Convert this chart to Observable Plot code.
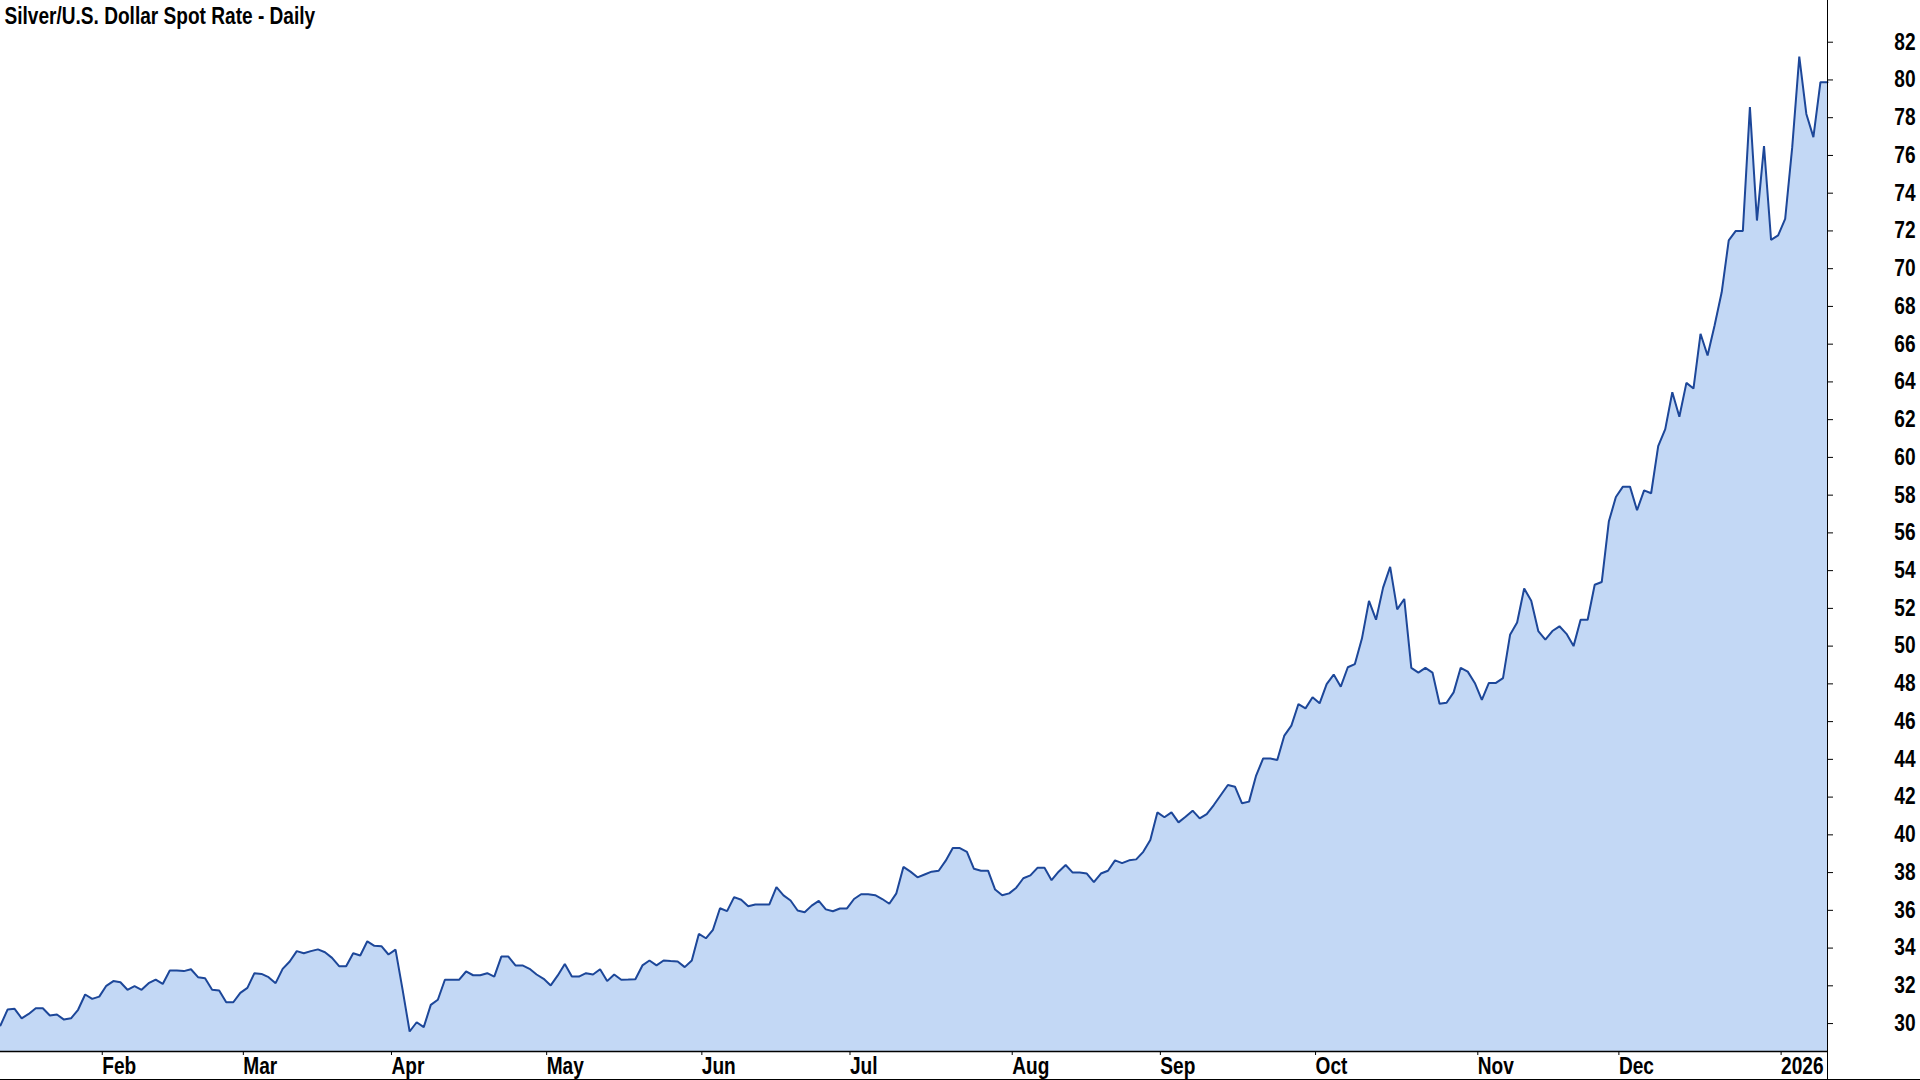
<!DOCTYPE html>
<html><head><meta charset="utf-8">
<script src="https://cdn.jsdelivr.net/npm/d3@7"></script>
<script src="https://cdn.jsdelivr.net/npm/@observablehq/plot@0.6"></script>
<style>
html,body{margin:0;padding:0;background:#fff;}
#wrap{position:relative;width:1920px;height:1080px;overflow:hidden;}
#wrap svg{display:block;}
.vline{position:absolute;left:1827px;top:1051px;width:1px;height:29px;background:#000;}
.hline{position:absolute;left:0;top:1079px;width:1920px;height:1px;background:#000;}
</style></head><body><div id="wrap"></div>
<script>
// Daily closes, one value per weekday, starting Tue 14 Jan 2025
const jan25 = [29.9, 30.74, 30.78, 30.28, 30.51, 30.81, 30.81, 30.43, 30.48, 30.21, 30.28, 30.73, 31.54, 31.31];
const feb25 = [31.43, 32.0, 32.25, 32.19, 31.79, 31.98, 31.79, 32.14, 32.33, 32.1, 32.81, 32.81, 32.78, 32.88, 32.46, 32.4, 31.79, 31.75, 31.13, 31.13];
const mar25 = [31.63, 31.89, 32.67, 32.63, 32.46, 32.14, 32.9, 33.29, 33.84, 33.73, 33.84, 33.93, 33.78, 33.48, 33.04, 33.04, 33.73, 33.61, 34.36, 34.12, 34.1];
const apr25 = [33.66, 33.92, 31.8, 29.58, 30.07, 29.81, 30.99, 31.26, 32.32, 32.32, 32.32, 32.76, 32.56, 32.56, 32.67, 32.49, 33.55, 33.55, 33.08, 33.08, 32.9, 32.6];
const may25 = [32.37, 32.02, 32.55, 33.16, 32.49, 32.49, 32.67, 32.6, 32.88, 32.25, 32.6, 32.32, 32.33, 32.35, 33.08, 33.34, 33.08, 33.34, 33.31, 33.29, 32.99, 33.34];
const jun25 = [34.75, 34.52, 34.97, 36.11, 35.96, 36.7, 36.56, 36.22, 36.31, 36.31, 36.31, 37.23, 36.79, 36.52, 35.99, 35.9, 36.25, 36.5, 36.05, 35.95, 36.1];
const jul25 = [36.1, 36.6, 36.85, 36.85, 36.8, 36.6, 36.35, 36.9, 38.3, 38.05, 37.75, 37.9, 38.05, 38.1, 38.63, 39.3, 39.3, 39.1, 38.2, 38.1, 38.1, 37.1, 36.8];
const aug25 = [36.9, 37.2, 37.7, 37.85, 38.25, 38.25, 37.6, 38.05, 38.4, 38.0, 38.0, 37.95, 37.5, 37.95, 38.1, 38.65, 38.5, 38.65, 38.7, 39.1, 39.73];
const sep25 = [41.19, 40.93, 41.19, 40.66, 40.96, 41.28, 40.87, 41.1, 41.58, 42.11, 42.64, 42.55, 41.67, 41.76, 43.14, 44.05, 44.05, 43.97, 45.26, 45.79, 46.93, 46.7];
const oct25 = [47.29, 46.97, 47.99, 48.49, 47.85, 48.88, 49.05, 50.4, 52.4, 51.4, 53.1, 54.2, 51.95, 52.5, 48.85, 48.6, 48.85, 48.6, 46.95, 47.0, 47.55, 48.85, 48.65];
const nov25 = [48.05, 47.15, 48.05, 48.05, 48.3, 50.6, 51.25, 53.05, 52.4, 50.8, 50.35, 50.8, 51.05, 50.65, 50.0, 51.4, 51.4, 53.25, 53.4, 56.6];
const dec25 = [57.9, 58.45, 58.45, 57.2, 58.25, 58.1, 60.6, 61.5, 63.45, 62.15, 63.95, 63.65, 66.55, 65.4, 67.0, 68.75, 71.5, 72.0, 72.0, 78.56, 72.55, 76.49, 71.53];
const jan26 = [71.76, 72.64, 76.44, 81.24, 78.2, 76.97, 79.88, 79.88];

// Month-start positions (weekday index) and their labels
const tickIdx = [14, 34, 55, 77, 99, 120, 143, 164, 186, 209, 229, 252];
const tickLabels = ["Feb", "Mar", "Apr", "May", "Jun", "Jul", "Aug", "Sep", "Oct", "Nov", "Dec", "2026"];
const yTicks = d3.range(30, 83, 2);
const xDomain = [0, 259];
const yDomain = [28.52, 84.21];
const title = "Silver/U.S. Dollar Spot Rate - Daily";

const values = [].concat(jan25, feb25, mar25, apr25, may25, jun25, jul25, aug25, sep25, oct25, nov25, dec25, jan26);
const data = values.map((v, i) => ({i, v}));
const labelMap = new Map(tickIdx.map((d, k) => [d, tickLabels[k]]));

const FONT = '"Liberation Sans", Arial, sans-serif';
const NARROW = 0.83; // emulate a narrow bold face

const chart = Plot.plot({
  width: 1920,
  height: 1080,
  marginLeft: 0,
  marginRight: 93,
  marginTop: 0,
  marginBottom: 29,
  style: {fontFamily: FONT, fontSize: "23px", fontWeight: "bold", color: "#000", background: "#fff", overflow: "visible"},
  x: {domain: xDomain, label: null},
  y: {domain: yDomain, label: null},
  marks: [
    Plot.areaY(data, {x: "i", y1: yDomain[0], y2: "v", fill: "#c3d8f5", fillOpacity: 1}),
    Plot.lineY(data, {x: "i", y: "v", stroke: "#1d4799", strokeWidth: 2, strokeLinejoin: "miter"}),
    Plot.ruleY([yDomain[0]], {stroke: "#000", strokeWidth: 1.5}),
    Plot.ruleX([xDomain[1]], {stroke: "#000", strokeWidth: 1}),
    Plot.axisY(yTicks, {anchor: "right", label: null, tickSize: 5, tickPadding: 83, textAnchor: "end", fontSize: 23, fontWeight: "bold", stroke: "#000", fill: "#000"}),
    Plot.axisX(tickIdx, {anchor: "bottom", label: null, tickSize: 4, tickPadding: 2, textAnchor: "start", dx: 3, tickFormat: d => labelMap.get(d), fontSize: 23, fontWeight: "bold", stroke: "#000", fill: "#000"}),
    Plot.text([title], {frameAnchor: "top-left", dx: 4, dy: 23, lineAnchor: "bottom", textAnchor: "start", fontSize: 23, fontWeight: "bold", fill: "#000"})
  ]
});

// horizontally condense every label around its anchor point
chart.querySelectorAll("text").forEach(t => {
  const tr = t.getAttribute("transform") || "";
  const x = +(t.getAttribute("x") || 0);
  t.setAttribute("transform", `${tr} translate(${x},0) scale(${NARROW},1) translate(${-x},0)`.trim());
});

const wrap = document.getElementById("wrap");
wrap.appendChild(chart);
const v = document.createElement("div"); v.className = "vline"; wrap.appendChild(v);
const h = document.createElement("div"); h.className = "hline"; wrap.appendChild(h);
</script></body></html>
